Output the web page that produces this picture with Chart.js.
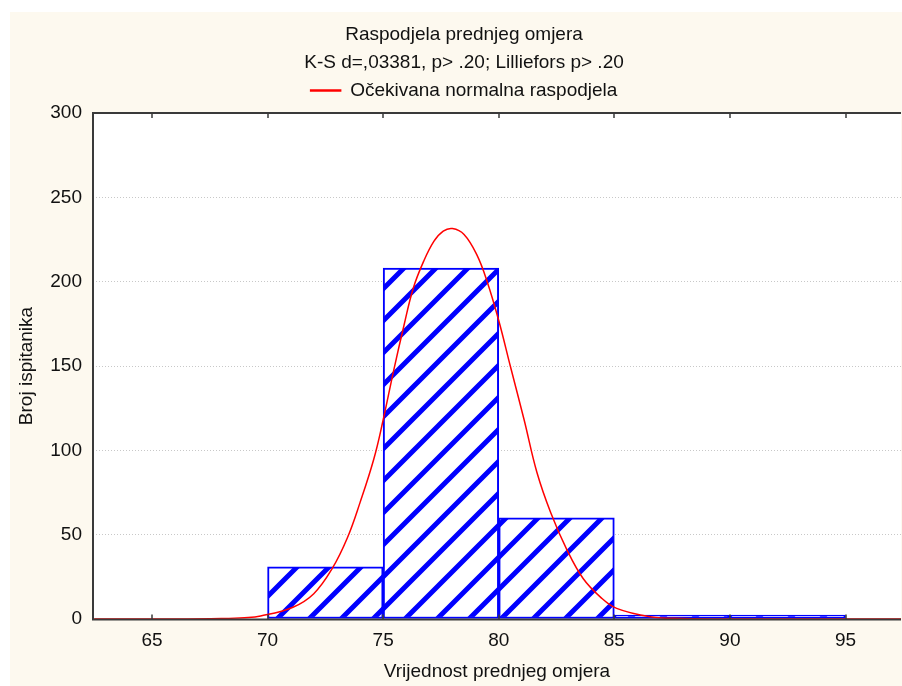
<!DOCTYPE html>
<html>
<head>
<meta charset="utf-8">
<script src="https://cdn.jsdelivr.net/npm/chart.js@4.4.1/dist/chart.umd.min.js"></script>
<style>
  html, body { margin: 0; padding: 0; background: #ffffff; overflow: hidden; }
  #wrap { width: 902px; height: 686px; }
</style>
</head>
<body>
<div id="wrap"><canvas id="myChart" width="902" height="686"></canvas></div>
<script>
// histogram bins (class centres) and counts
var binCenters = [72.5, 77.5, 82.5, 87.5, 92.5];
var binCounts = [31, 208, 60, 0, 0];

// expected normal curve
var curveX = [62.5, 66, 68, 69, 69.7, 71.1, 72.0, 72.8, 73.45, 74.0, 74.6, 75.0, 75.45, 75.9, 76.3, 76.75, 77.2, 77.6, 78.0,
              78.5, 79.05, 79.5, 80.0, 80.5, 81.1, 81.65, 82.25, 82.95, 83.65, 84.4, 85.1, 86.55, 88, 90, 95, 97.5];
var curveY = [0, 0, 0.3, 0.8, 1.8, 7, 15, 30, 48, 69, 95, 118, 147, 174, 196, 212, 224, 230, 231.5,
              228, 216, 200, 177, 150, 118, 87, 63, 41, 24, 13, 6.3, 1.4, 0.3, 0, 0, 0];

var xTickValues = [65, 70, 75, 80, 85, 90, 95];
var yTickValues = [0, 50, 100, 150, 200, 250, 300];

var titleText = 'Raspodjela prednjeg omjera';
var subtitleText = 'K-S d=,03381, p> .20; Lilliefors p> .20';
var curveLabel = 'Očekivana normalna raspodjela';
var xTitle = 'Vrijednost prednjeg omjera';
var yTitle = 'Broj ispitanika';

var FONT = '"Liberation Sans", Arial, sans-serif';
Chart.defaults.font.family = FONT;
Chart.defaults.font.size = 19;
Chart.defaults.color = '#111111';

function makeHatch() {
    var s = 32;
    var c = document.createElement('canvas');
    c.width = s;
    c.height = s;
    var g = c.getContext('2d');
    g.fillStyle = '#ffffff';
    g.fillRect(0, 0, s, s);
    g.strokeStyle = '#0000ff';
    g.lineWidth = 5;
    g.beginPath();
    g.moveTo(-s / 2, s / 2); g.lineTo(s / 2, -s / 2);
    g.moveTo(0, s); g.lineTo(s, 0);
    g.moveTo(s / 2, s * 1.5); g.lineTo(s * 1.5, s / 2);
    g.stroke();
    return document.getElementById('myChart').getContext('2d').createPattern(c, 'repeat');
}

// cream panel + white plot area
var background = {
    id: 'background',
    beforeDraw: function (chart) {
        var ctx = chart.ctx, a = chart.chartArea;
        ctx.save();
        ctx.fillStyle = '#fdf9ef';
        ctx.fillRect(10, 12, chart.width - 10, chart.height - 12);
        ctx.fillStyle = '#ffffff';
        ctx.fillRect(a.left, a.top, a.right - a.left, a.bottom - a.top);
        ctx.restore();
    }
};

// frame and inward tick marks, on top of the marks
var frame = {
    id: 'frame',
    afterDatasetsDraw: function (chart) {
        var ctx = chart.ctx, a = chart.chartArea;
        var xs = chart.scales.x;
        var b = a.bottom + 0.5;
        ctx.save();
        ctx.strokeStyle = '#3a3a3a';
        ctx.lineWidth = 2;
        ctx.beginPath();
        ctx.moveTo(a.right, a.top);
        ctx.lineTo(a.left, a.top);
        ctx.lineTo(a.left, b);
        ctx.lineTo(a.right, b);
        ctx.stroke();
        ctx.lineWidth = 1.5;
        ctx.beginPath();
        for (var i = 0; i < xTickValues.length; i++) {
            var px = Math.round(xs.getPixelForValue(xTickValues[i]));
            ctx.moveTo(px, b);
            ctx.lineTo(px, b - 5);
            ctx.moveTo(px, a.top);
            ctx.lineTo(px, a.top + 5);
        }
        ctx.stroke();
        ctx.restore();
    }
};

var chart = new Chart(document.getElementById('myChart'), {
    type: 'bar',
    data: {
        datasets: [{
            type: 'line',
            label: curveLabel,
            xAxisID: 'x',
            data: curveX.map(function (x, i) { return {x: x, y: curveY[i]}; }),
            borderColor: '#ff0000',
            backgroundColor: '#ff0000',
            borderWidth: 1.5,
            pointRadius: 0,
            fill: false,
            tension: 0.4,
            order: 0
        }, {
            type: 'bar',
            label: 'hist',
            xAxisID: 'x',
            data: binCenters.map(function (x, i) { return {x: x, y: binCounts[i]}; }),
            backgroundColor: makeHatch(),
            borderColor: '#0000ff',
            borderWidth: 2,
            borderSkipped: false,
            minBarLength: 4,
            barPercentage: 1,
            categoryPercentage: 1,
            order: 1
        }]
    },
    options: {
        responsive: false,
        animation: false,
        layout: { padding: { left: 27, right: 1, top: 0, bottom: 0 } },
        plugins: {
            tooltip: { enabled: false },
            title: {
                display: true,
                text: titleText,
                font: { size: 19, weight: 'normal', lineHeight: 1.2 },
                padding: { top: 23.8, bottom: 0 }
            },
            subtitle: {
                display: true,
                text: subtitleText,
                font: { size: 19, weight: 'normal', lineHeight: '15.6px' },
                padding: { top: 8.8, bottom: 0 }
            },
            legend: {
                display: true,
                labels: {
                    boxWidth: 30,
                    boxHeight: 1,
                    padding: 10,
                    font: { size: 19 },
                    filter: function (item) { return item.datasetIndex === 0; }
                }
            }
        },
        scales: {
            x: {
                type: 'linear',
                position: 'bottom',
                offset: false,
                min: 62.45,
                max: 97.4,
                afterBuildTicks: function (scale) {
                    scale.ticks = xTickValues.map(function (v) { return {value: v}; });
                },
                afterFit: function (scale) { scale.height = 67; },
                grid: { display: false, drawTicks: false },
                border: { display: false },
                ticks: { padding: 10.6, font: { size: 19 }, color: '#111111' },
                title: {
                    display: true,
                    text: xTitle,
                    font: { size: 19 },
                    padding: { top: 0, bottom: 2.6 }
                }
            },
            // empty spacer between the legend and the plot frame
            xTop: {
                type: 'linear',
                position: 'top',
                afterFit: function (scale) { scale.height = 3; },
                grid: { display: false, drawTicks: false },
                border: { display: false },
                ticks: { display: false }
            },
            y: {
                min: 0,
                max: 300,
                afterBuildTicks: function (scale) {
                    scale.ticks = yTickValues.map(function (v) { return {value: v}; });
                },
                afterFit: function (scale) { scale.width = 66; },
                grid: {
                    drawTicks: false,
                    color: function (c) {
                        var v = c.tick ? c.tick.value : null;
                        return (v === 0 || v === 300) ? 'rgba(0,0,0,0)' : '#c8c8c8';
                    },
                    lineWidth: 1
                },
                border: { display: false, dash: [1, 2] },
                ticks: { padding: 11, font: { size: 19 }, color: '#111111' },
                title: {
                    display: true,
                    text: yTitle,
                    font: { size: 19 },
                    padding: { top: -11.4, bottom: 0 }
                }
            }
        }
    },
    plugins: [background, frame]
});
</script>
</body>
</html>
